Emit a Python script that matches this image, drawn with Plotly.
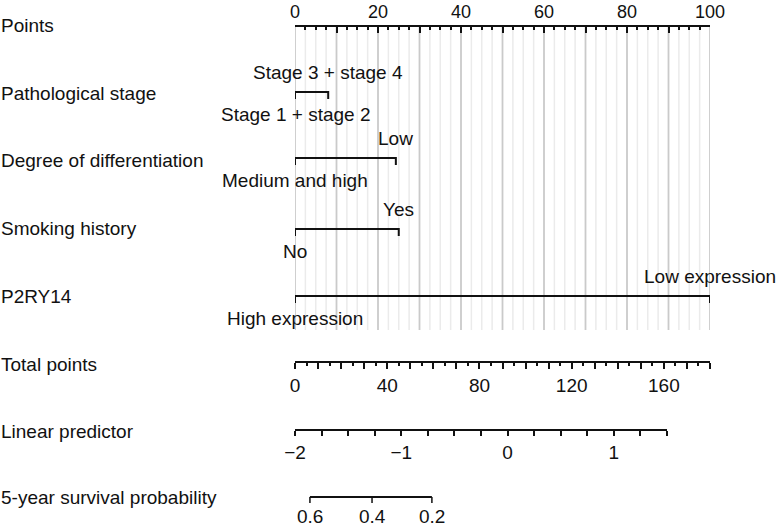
import numpy as np
import plotly.graph_objects as go

W, H = 778, 528

# ---------------- data ----------------
row_labels = ["Points", "Pathological stage", "Degree of differentiation",
              "Smoking history", "P2RY14", "Total points", "Linear predictor",
              "5-year survival probability"]

stage_levels = ["Stage 1 + stage 2", "Stage 3 + stage 4"]
stage_points = [0, 8.0]
diff_levels = ["Medium and high", "Low"]
diff_points = [0, 24.3]
smoke_levels = ["No", "Yes"]
smoke_points = [0, 25.0]
p2ry14_levels = ["High expression", "Low expression"]
p2ry14_points = [0, 100.0]

points_range = [0, 100]
points_tick_labels = [0, 20, 40, 60, 80, 100]
total_points_range = [0, 180]
total_points_labels = [0, 40, 80, 120, 160]
lp_range = [-2, 1.5]
lp_labels = [-2, -1, 0, 1]
surv_labels = [0.6, 0.4, 0.2]
log_baseline_surv = -3.28  # ln S0(5 years)

# ---------------- layout (pixel positions) ----------------
X0, X1, XLP = 295, 710, 667
label_y = [25, 93, 160, 228, 296, 364, 431, 497]
var_line_y = [92, 158, 229, 296]
points_line_y = 26
total_line_y = 362
lp_line_y = 430
surv_line_y = 497
grid_bottom = 330
FS = 19
FONT = "Liberation Sans, Arial, Helvetica, sans-serif"
INK = "#111111"


def yf(py):
    return 1 - py / H


fig = go.Figure()

# gridlines on points scale
minor_x, minor_y, major_x, major_y = [], [], [], []
for v in np.arange(0, 100.001, 2.5):
    if abs(v % 10) < 1e-9:
        major_x += [v, v, None]
        major_y += [points_line_y, grid_bottom, None]
    else:
        minor_x += [v, v, None]
        minor_y += [points_line_y, grid_bottom, None]
fig.add_trace(go.Scatter(x=minor_x, y=minor_y, mode="lines", xaxis="x", yaxis="y",
                         line=dict(color="#ebebeb", width=1.5), hoverinfo="skip"))
fig.add_trace(go.Scatter(x=major_x, y=major_y, mode="lines", xaxis="x", yaxis="y",
                         line=dict(color="#cacaca", width=1.8), hoverinfo="skip"))

annotations = []

# variable brackets
variables = [(stage_levels, stage_points), (diff_levels, diff_points),
             (smoke_levels, smoke_points), (p2ry14_levels, p2ry14_points)]
for (levels, pts), ly in zip(variables, var_line_y):
    fig.add_trace(go.Scatter(x=[pts[0], pts[0], pts[1], pts[1]],
                             y=[ly + 7, ly, ly, ly + 7], mode="lines",
                             xaxis="x", yaxis="y",
                             line=dict(color=INK, width=2), hoverinfo="skip"))
    annotations.append(dict(x=pts[0], y=ly + 22, xref="x", yref="y", text=levels[0],
                            showarrow=False, xanchor="center", yanchor="middle",
                            font=dict(size=FS, family=FONT, color=INK)))
    annotations.append(dict(x=pts[1], y=ly - 20, xref="x", yref="y", text=levels[1],
                            showarrow=False, xanchor="center", yanchor="middle",
                            font=dict(size=FS, family=FONT, color=INK)))

# total points axis subplot (axis drawn by plotly)
fig.add_trace(go.Scatter(x=[None], y=[None], mode="lines", xaxis="x2", yaxis="y",
                         hoverinfo="skip"))

# survival scale drawn on linear-predictor axis
surv_lp = [float(np.log(np.log(s) / log_baseline_surv)) for s in surv_labels]
fig.add_trace(go.Scatter(x=[surv_lp[0], surv_lp[-1]], y=[surv_line_y, surv_line_y],
                         mode="lines", xaxis="x3", yaxis="y",
                         line=dict(color=INK, width=2), hoverinfo="skip"))
tx, ty = [], []
for v in surv_lp:
    tx += [v, v, None]
    ty += [surv_line_y, surv_line_y + 6, None]
fig.add_trace(go.Scatter(x=tx, y=ty, mode="lines", xaxis="x3", yaxis="y",
                         line=dict(color=INK, width=1.5), hoverinfo="skip"))
for v, s in zip(surv_lp, surv_labels):
    annotations.append(dict(x=v, y=surv_line_y + 19, xref="x3", yref="y", text=f"{s:.1f}",
                            showarrow=False, xanchor="center", yanchor="middle",
                            font=dict(size=FS, family=FONT, color=INK)))

# row labels
for lab, ly in zip(row_labels, label_y):
    annotations.append(dict(x=-1 / W, y=ly, xref="paper", yref="y", text=lab,
                            showarrow=False, xanchor="left", yanchor="middle",
                            font=dict(size=FS, family=FONT, color=INK)))

axis_common = dict(showline=True, linewidth=2, linecolor=INK, showgrid=False,
                   zeroline=False, tickcolor=INK, tickwidth=1.5, anchor="free",
                   automargin=False,
                   tickfont=dict(size=FS, family=FONT, color=INK), fixedrange=True)

pt_vals = list(np.arange(0, 100.001, 10))
tp_vals = list(np.arange(0, 180.001, 10))
lp_vals = list(np.arange(-2, 1.5001, 0.25))


def fmt_lp(v):
    return (f"{int(v)}".replace("-", "\u2212")) if v in lp_labels else ""


fig.update_layout(
    template="none",
    width=W, height=H,
    margin=dict(l=0, r=0, t=0, b=0, pad=0, autoexpand=False),
    paper_bgcolor="white", plot_bgcolor="rgba(0,0,0,0)",
    showlegend=False,
    font=dict(family=FONT, size=FS, color=INK),
    xaxis=dict(domain=[X0 / W, X1 / W], range=points_range, side="top",
               position=yf(points_line_y), ticks="inside", ticklen=6,
               tickvals=pt_vals,
               ticktext=[str(int(v)) if v in points_tick_labels else "" for v in pt_vals],
               minor=dict(ticks="inside", dtick=2.5, ticklen=3, tickcolor=INK, tickwidth=1.5),
               **axis_common),
    xaxis2=dict(domain=[X0 / W, X1 / W], range=total_points_range, side="bottom",
                position=yf(total_line_y), ticks="outside", ticklen=6,
                tickvals=tp_vals,
                ticktext=[str(int(v)) if v in total_points_labels else "" for v in tp_vals],
                minor=dict(ticks="outside", dtick=5, ticklen=3, tickcolor=INK, tickwidth=1.5),
                **axis_common),
    xaxis3=dict(domain=[X0 / W, XLP / W], range=lp_range, side="bottom",
                position=yf(lp_line_y), ticks="outside", ticklen=5,
                tickvals=lp_vals, ticktext=[fmt_lp(v) for v in lp_vals],
                **axis_common),
    yaxis=dict(domain=[0, 1], range=[H, 0], visible=False, fixedrange=True,
               anchor="free", position=0, automargin=False),
    annotations=annotations,
)
fig.update_xaxes(selector=dict(side="top"), tickfont=dict(size=18, family=FONT, color=INK))

fig.write_html("out.html", config={"displayModeBar": False},
               post_script="document.body.style.margin='0';")
